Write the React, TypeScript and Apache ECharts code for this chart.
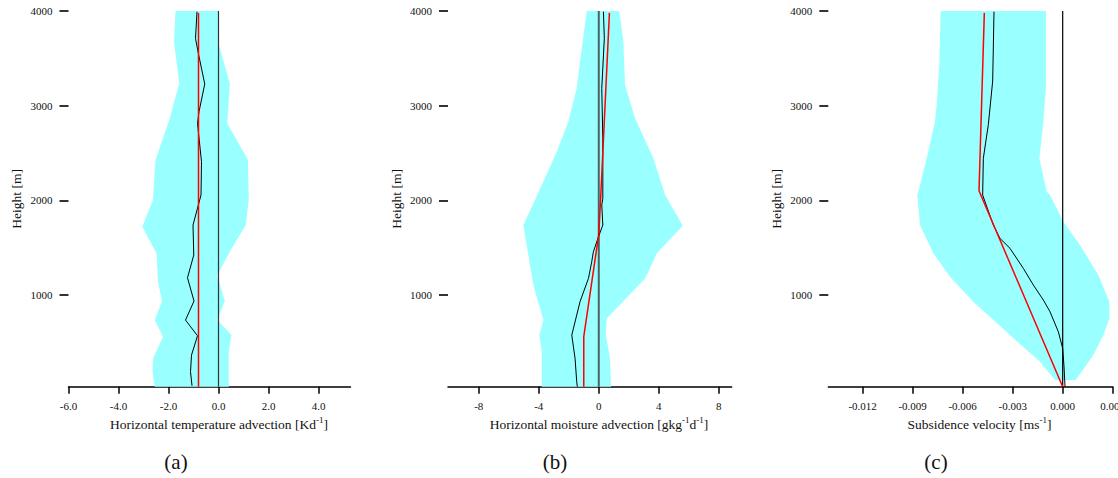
import React, { useEffect, useRef } from "react";
import * as echarts from "echarts";

// ---------- data ----------
const H_MIN = 30;
const H_MAX = 4000;
const heightTicks = [1000, 2000, 3000, 4000];

// Panel (a): horizontal temperature advection [K/d]
const aTicks = [-6, -4, -2, 0, 2, 4];
const aBandLeft = [[-1.72, 4000], [-1.78, 3676], [-1.57, 3236], [-1.95, 2866], [-2.52, 2425], [-2.62, 2002], [-3.05, 1720], [-2.48, 1439], [-2.42, 1139], [-2.26, 935], [-2.55, 734], [-2.22, 557], [-2.62, 329], [-2.64, 188], [-2.55, 30]];
const aBandRight = [[-0.02, 4000], [0.02, 3640], [0.45, 3236], [0.35, 2813], [1.18, 2425], [1.21, 2002], [1.09, 1738], [0.45, 1456], [-0.05, 1209], [0.25, 935], [-0.05, 734], [0.52, 575], [0.41, 399], [0.41, 30]];
const aMean = [[-0.86, 3993], [-0.92, 3711], [-0.82, 3570], [-0.55, 3228], [-0.78, 2936], [-0.84, 2813], [-0.75, 2584], [-0.68, 2407], [-0.7, 2055], [-1.02, 1738], [-0.99, 1421], [-1.24, 1181], [-0.98, 935], [-1.32, 734], [-0.84, 568], [-1.08, 364], [-1.12, 188], [-1.06, 40]];
const aForcing = [[-0.8, 3980], [-0.8, 30]];

// Panel (b): horizontal moisture advection [g/kg/d]
const bTicks = [-8, -4, 0, 4, 8];
const bBandLeft = [[-0.8, 4000], [-1.13, 3606], [-1.47, 3183], [-2.03, 2830], [-2.8, 2513], [-4.25, 2002], [-5.03, 1738], [-4.36, 1104], [-3.69, 734], [-3.96, 575], [-3.8, 400], [-3.8, 30]];
const bBandRight = [[1.37, 4000], [1.64, 3676], [1.75, 3218], [2.42, 2866], [3.64, 2443], [4.42, 2055], [5.6, 1731], [3.87, 1439], [3.09, 1174], [0.53, 751], [0.47, 575], [0.75, 329], [0.82, 30]];
const bMean = [[0.31, 3993], [0.37, 3711], [0.2, 3183], [0.27, 2654], [0.27, 2020], [0.2, 1950], [0.27, 1738], [-0.02, 1614], [-0.36, 1456], [-0.47, 1350], [-0.69, 1174], [-1.25, 928], [-1.8, 575], [-1.58, 329], [-1.47, 82], [-1.43, 30]];
const bForcing = [[0.71, 3980], [0.13, 2037], [0.0, 1640], [-1.0, 560], [-1.0, 30]];

// Panel (c): subsidence velocity [m/s]
const cTicks = [-0.012, -0.009, -0.006, -0.003, 0.0, 0.003];
const cBandLeft = [[-0.00732, 4000], [-0.0074, 3429], [-0.00756, 3006], [-0.00766, 2830], [-0.00816, 2443], [-0.00866, 2090], [-0.00872, 2055], [-0.00856, 1738], [-0.00776, 1439], [-0.00676, 1191], [-0.00536, 928], [-0.00316, 575], [-0.00136, 293], [-0.00046, 100]];
const cBandRight = [[-0.001, 4000], [-0.001, 3218], [-0.00116, 2830], [-0.0014, 2443], [-0.00096, 2090], [-0.00076, 2055], [0.00004, 1773], [0.00104, 1526], [0.00214, 1209], [0.0028, 928], [0.0028, 751], [0.00244, 575], [0.00184, 364], [0.00078, 100]];
const cMean = [[-0.00412, 3993], [-0.0042, 3260], [-0.00446, 2800], [-0.00476, 2443], [-0.0048, 2055], [-0.00416, 1738], [-0.00376, 1597], [-0.00316, 1492], [-0.00236, 1280], [-0.00176, 1104], [-0.00116, 946], [-0.00076, 822], [-0.00026, 610], [0.0, 434], [0.00008, 240], [0.00014, 30]];
const cForcing = [[-0.0047, 3980], [-0.00502, 2100], [0.0, 30]];

const zeroLine = [[0, H_MIN], [0, H_MAX]];

// ---------- styling ----------
const SERIF = "'Liberation Serif', 'DejaVu Serif', 'Times New Roman', serif";
const CYAN = "#99ffff";

const panels = [
  {
    left: 68.5, width: 282, min: -6, max: 5.28, ticks: aTicks, fmt: (v: number) => v.toFixed(1),
    bandL: aBandLeft, bandR: aBandRight, mean: aMean, forcing: aForcing,
    zeroColor: "#333333", zeroWidth: 1.2,
    xname: "{n|Horizontal temperature advection [Kd}{sup|-1}{n|]}", xnameX: 219, yname: 16, letter: "(a)", letterX: 176,
  },
  {
    left: 448, width: 283.7, min: -10.05, max: 8.86, ticks: bTicks, fmt: (v: number) => String(v),
    bandL: bBandLeft, bandR: bBandRight, mean: bMean, forcing: bForcing,
    zeroColor: "#4f6262", zeroWidth: 2,
    xname: "{n|Horizontal moisture advection [gkg}{sup|-1}{n|d}{sup|-1}{n|]}", xnameX: 599, yname: 396, letter: "(b)", letterX: 555,
  },
  {
    left: 828.3, width: 284.4, min: -0.01406, max: 0.003, ticks: cTicks, fmt: (v: number) => v.toFixed(3),
    bandL: cBandLeft, bandR: cBandRight, mean: cMean, forcing: cForcing,
    zeroColor: "#000000", zeroWidth: 1.2,
    xname: "{n|Subsidence velocity [ms}{sup|-1}{n|]}", xnameX: 979.5, yname: 776, letter: "(c)", letterX: 936,
  },
];

const GRID_TOP = 11;
const GRID_HEIGHT = 375.7;

export default function App() {
  const ref = useRef<HTMLDivElement>(null);

  useEffect(() => {
    if (!ref.current) return;
    const chart = echarts.init(ref.current, undefined, { renderer: "svg" });

    const grid: any[] = [];
    const xAxis: any[] = [];
    const yAxis: any[] = [];
    const series: any[] = [];
    const graphic: any[] = [];

    panels.forEach((p, i) => {
      grid.push({
        left: p.left, top: GRID_TOP, width: p.width, height: GRID_HEIGHT,
        containLabel: false, outerBoundsMode: "none",
      });
      xAxis.push({
        type: "value", gridIndex: i, min: p.min, max: p.max, scale: true,
        axisLine: { show: true, onZero: false, lineStyle: { color: "#000", width: 1.5 } },
        axisTick: { show: true, length: 7, customValues: p.ticks, lineStyle: { color: "#000", width: 1.5 } },
        axisLabel: {
          customValues: p.ticks, formatter: p.fmt, fontSize: 11, fontFamily: SERIF, color: "#111", margin: 14,
        },
        splitLine: { show: false },
      });
      yAxis.push({
        type: "value", gridIndex: i, min: H_MIN, max: H_MAX, scale: true,
        axisLine: { show: false, onZero: false },
        axisTick: { show: true, length: 9, customValues: heightTicks, lineStyle: { color: "#000", width: 1.6 } },
        axisLabel: {
          customValues: heightTicks, formatter: (v: number) => String(v),
          fontSize: 11, fontFamily: SERIF, color: "#111", margin: 16,
        },
        splitLine: { show: false },
      });

      const poly = [...p.bandL, ...[...p.bandR].reverse()];
      series.push({
        type: "custom", xAxisIndex: i, yAxisIndex: i, silent: true, z: 1,
        data: poly, encode: { x: 0, y: 1 },
        renderItem: (params: any, api: any) => {
          if (params.dataIndex !== 0) return { type: "group", children: [] };
          const pts = poly.map((pt) => api.coord(pt));
          return { type: "polygon", shape: { points: pts }, style: { fill: CYAN, stroke: "none" } };
        },
      });
      series.push({
        type: "line", xAxisIndex: i, yAxisIndex: i, data: zeroLine, showSymbol: false, silent: true, z: 2,
        lineStyle: { color: p.zeroColor, width: p.zeroWidth },
      });
      series.push({
        type: "line", xAxisIndex: i, yAxisIndex: i, data: p.mean, showSymbol: false, silent: true, z: 3,
        lineStyle: { color: "#000", width: 1 },
      });
      series.push({
        type: "line", xAxisIndex: i, yAxisIndex: i, data: p.forcing, showSymbol: false, silent: true, z: 4,
        lineStyle: { color: "#ff0000", width: 1.5 },
      });

      graphic.push({
        type: "text", x: p.yname, y: GRID_TOP + GRID_HEIGHT / 2, rotation: Math.PI / 2,
        style: {
          text: "Height [m]", fontSize: 13.5, fontFamily: SERIF, fill: "#111",
          align: "center", verticalAlign: "middle", textAlign: "center", textVerticalAlign: "middle",
        },
      });
      graphic.push({
        type: "text", x: p.xnameX, y: 424,
        style: {
          text: p.xname, fontFamily: SERIF, fill: "#111",
          align: "center", verticalAlign: "middle", textAlign: "center", textVerticalAlign: "middle",
          rich: {
            n: { fontSize: 13.5, fontFamily: SERIF, fill: "#111", lineHeight: 17, verticalAlign: "middle" },
            sup: { fontSize: 9, fontFamily: SERIF, fill: "#111", lineHeight: 9, verticalAlign: "top" },
          },
        },
      });
      graphic.push({
        type: "text", x: p.letterX, y: 462,
        style: {
          text: p.letter, fontSize: 21, fontFamily: SERIF, fill: "#111",
          align: "center", verticalAlign: "middle", textAlign: "center", textVerticalAlign: "middle",
        },
      });
    });

    chart.setOption({
      animation: false,
      backgroundColor: "#ffffff",
      grid, xAxis, yAxis, series, graphic,
    });

    return () => chart.dispose();
  }, []);

  return (
    <div
      ref={ref}
      style={{ position: "absolute", left: 0, top: 0, width: 1118, height: 478 }}
    />
  );
}
